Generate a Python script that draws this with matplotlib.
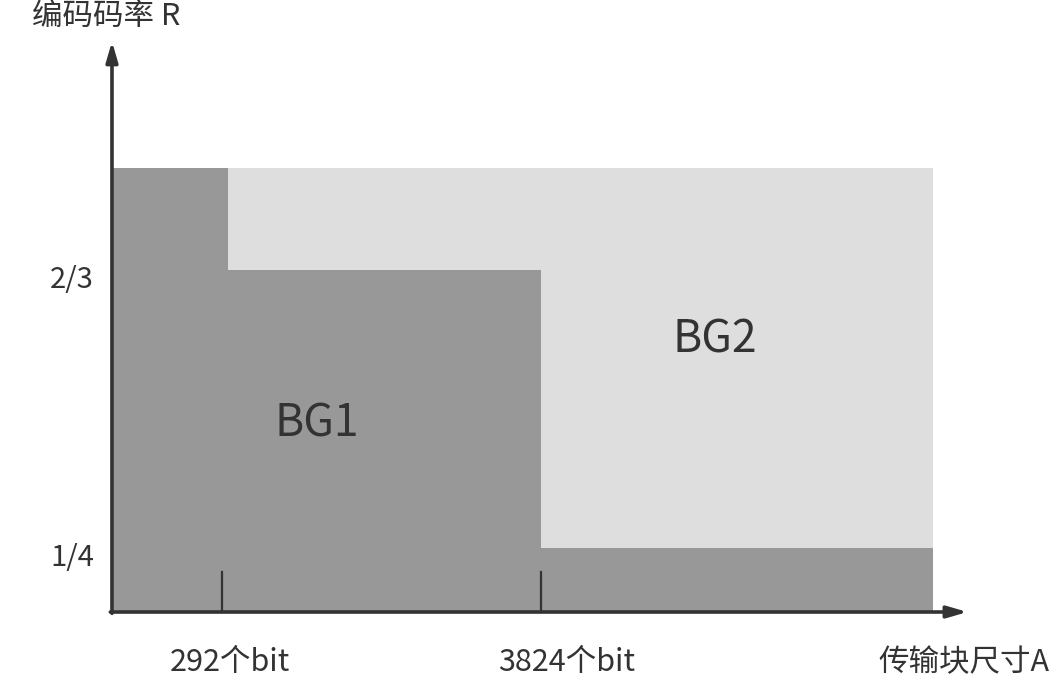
import numpy as np
import matplotlib
matplotlib.use("Agg")
from matplotlib import pyplot as plt

plt.rcParams['font.family'] = ['Noto Sans CJK SC', 'DejaVu Sans']

# schematic positions (x: 0 = origin, 1 = end of region; y: 0 = origin, 1 = top of region)
step_edges = [0.0, 0.141, 0.5225, 1.0]
bg1_levels = [1.0, 0.770, 0.144]       # upper edge of BG1 area in each segment
tick_pos = [0.134, 0.5225]
tick_labels = ['292个bit', '3824个bit']
rate_pos = [0.770, 0.144]
rate_labels = ['2/3', '1/4']
region_names = ['BG1', 'BG2']

dark = '#989898'
light = '#dedede'
ink = '#333333'

def main():
    fig = plt.figure(figsize=(10.64, 6.83), dpi=100)
    ax = fig.add_axes([0, 0, 1, 1])
    ax.set_xlim(-0.1364, 1.1596)
    ax.set_ylim(-0.1599, 1.3784)
    ax.axis('off')

    # BG2 background then BG1 step area on top
    ax.fill_between([step_edges[0], step_edges[-1]], 0, 1.0, color=light, lw=0)
    xs = np.repeat(step_edges, 2)[1:-1]
    ys = np.repeat(bg1_levels, 2)
    ax.fill_between(xs, 0, ys, color=dark, lw=0)

    # axes with arrows
    ax.annotate('', xy=(1.042, 0), xytext=(-0.002, 0),
                arrowprops=dict(arrowstyle='-|>,head_length=1.2,head_width=0.35',
                                color=ink, lw=2.6, shrinkA=0, shrinkB=0))
    ax.annotate('', xy=(0, 1.285), xytext=(0, -0.003),
                arrowprops=dict(arrowstyle='-|>,head_length=1.2,head_width=0.35',
                                color=ink, lw=2.6, shrinkA=0, shrinkB=0))

    # threshold ticks and their labels
    label_x = [0.144, 0.554]
    for p, lx, lab in zip(tick_pos, label_x, tick_labels):
        ax.plot([p, p], [0, 0.09], color=ink, lw=1.6)
        ax.text(lx, -0.113, lab, ha='center', va='center', fontsize=22, color=ink)

    for p, lab in zip(rate_pos, rate_labels):
        ax.text(-0.022, p - 0.022, lab, ha='right', va='center', fontsize=21, color=ink)

    region_xy = [(0.249, 0.425), (0.734, 0.614)]
    for name, (x, y) in zip(region_names, region_xy):
        ax.text(x, y, name, ha='center', va='center', fontsize=32, color=ink)

    ax.text(1.142, -0.113, '传输块尺寸A', ha='right', va='center',
            fontsize=22, color=ink)
    ax.text(-0.097, 1.34, '编码码率 R', ha='left', va='center', fontsize=22, color=ink)

    fig.savefig('out.png', dpi=100)

if __name__ == "__main__":
    main()
